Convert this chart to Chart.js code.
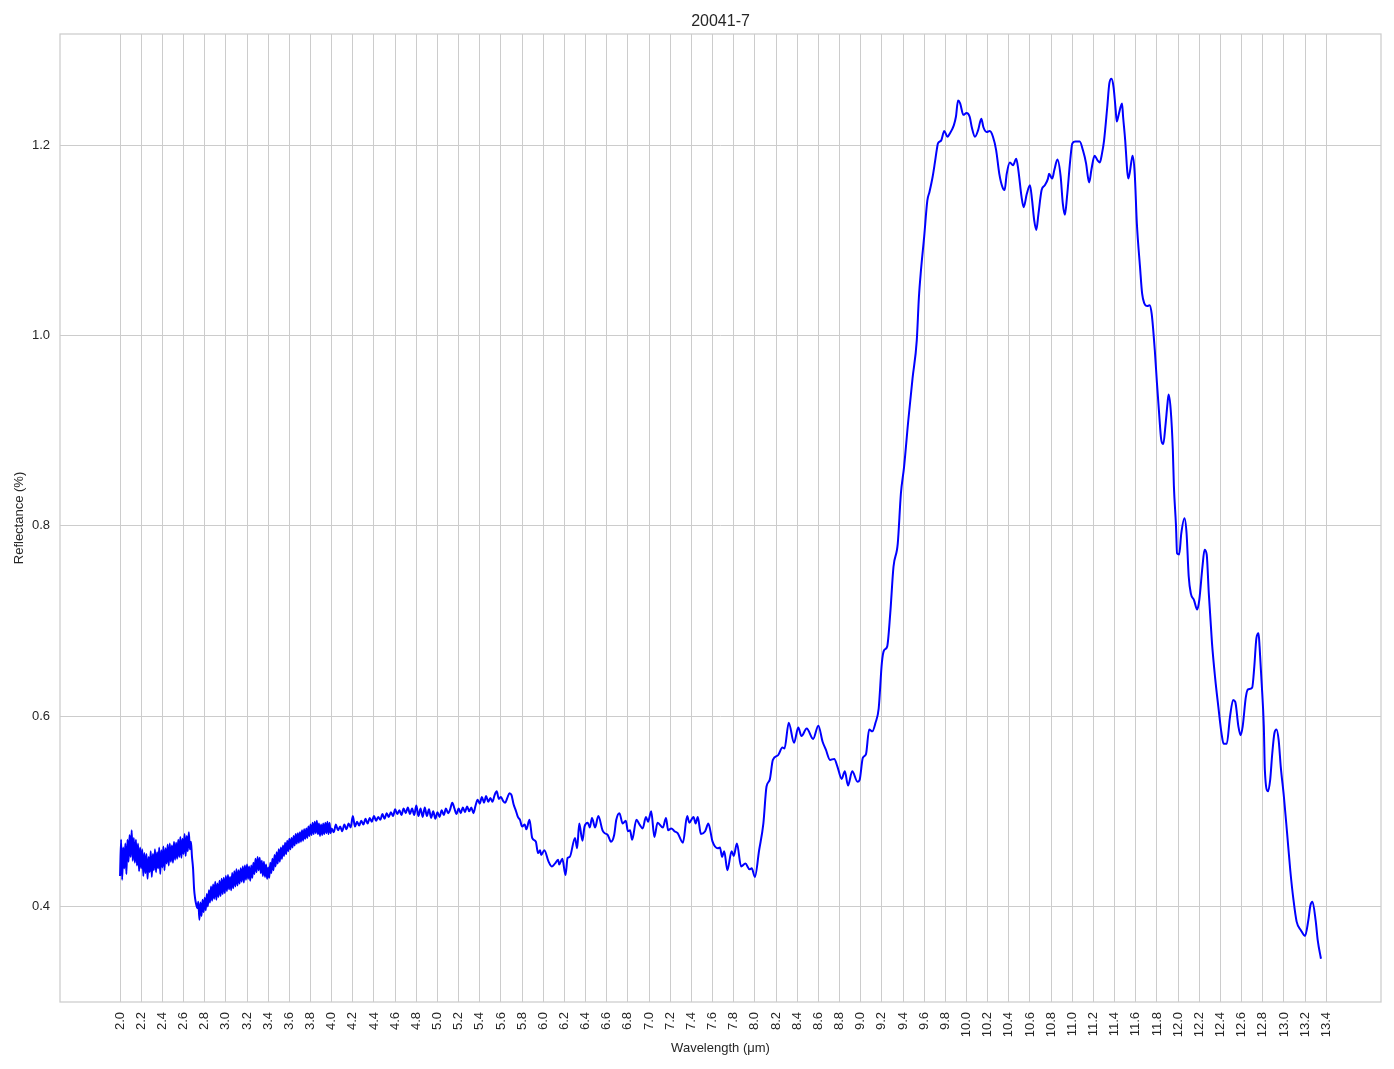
<!DOCTYPE html>
<html>
<head>
<meta charset="utf-8">
<title>20041-7</title>
<script src="https://cdn.jsdelivr.net/npm/chart.js@4.4.1/dist/chart.umd.min.js"></script>
<style>
  html, body { margin: 0; padding: 0; background: #fff; }
</style>
</head>
<body>
<canvas id="spec" width="1394" height="1069"></canvas>
<script>
// ---- DATA ----
// noisy start, sampled every 0.01 um from 2.00
const shortStart = 2.00, shortStep = 0.01;
const reflShort = [
  0.432, 0.470, 0.428, 0.462, 0.440, 0.466, 0.434, 0.470, 0.447, 0.475,
  0.452, 0.480, 0.448, 0.472, 0.446, 0.470, 0.443, 0.466, 0.437, 0.462,
  0.440, 0.460, 0.432, 0.456, 0.435, 0.455, 0.429, 0.452, 0.436, 0.458,
  0.431, 0.455, 0.438, 0.460, 0.436, 0.457, 0.440, 0.462, 0.434, 0.459,
  0.441, 0.463, 0.438, 0.461, 0.445, 0.465, 0.443, 0.466, 0.447, 0.464,
  0.446, 0.468, 0.449, 0.467, 0.450, 0.470, 0.452, 0.473, 0.451, 0.471,
  0.455, 0.476, 0.453, 0.474, 0.458, 0.478, 0.460, 0.468, 0.452, 0.440,
  0.418, 0.408, 0.402, 0.398, 0.405
];

// recovery after the dip, every 0.01 um from 2.75
const riseStart = 2.75, riseStep = 0.01;
const reflRise = [
  0.386, 0.404, 0.390, 0.407, 0.394, 0.409, 0.396, 0.413, 0.400, 0.417,
  0.404, 0.421, 0.406, 0.423, 0.408, 0.426, 0.407, 0.424, 0.410, 0.427,
  0.411, 0.429, 0.413, 0.430, 0.414, 0.432, 0.416, 0.433, 0.418, 0.431,
  0.417, 0.435, 0.419, 0.437, 0.421, 0.439, 0.422, 0.438, 0.424, 0.440,
  0.426, 0.442, 0.425, 0.443, 0.428, 0.444, 0.429, 0.442, 0.427, 0.443,
  0.430, 0.446, 0.434, 0.450, 0.436, 0.452, 0.438, 0.451, 0.435, 0.448,
  0.432, 0.447, 0.431, 0.444, 0.429, 0.441, 0.430, 0.446, 0.435, 0.450,
  0.438, 0.454, 0.442, 0.457, 0.445, 0.460, 0.447, 0.462, 0.450, 0.464,
  0.453, 0.467, 0.455, 0.469, 0.458, 0.471, 0.460, 0.472, 0.462, 0.474,
  0.464, 0.476, 0.466, 0.477, 0.467, 0.478, 0.468, 0.480, 0.469, 0.481,
  0.471, 0.482, 0.472, 0.484, 0.474, 0.486, 0.475, 0.488, 0.476, 0.489,
  0.477, 0.490, 0.476, 0.487, 0.474, 0.486, 0.475, 0.487, 0.476, 0.488,
  0.477, 0.489, 0.476, 0.488, 0.477
];

// plateau 4.00 - 5.78, every 0.02 um
const plateauStart = 4.00, plateauStep = 0.02;
const reflPlateau = [
  0.482, 0.478, 0.486, 0.480, 0.484, 0.479, 0.486, 0.481, 0.487, 0.483,
  0.495, 0.484, 0.489, 0.485, 0.490, 0.486, 0.492, 0.487, 0.493, 0.489,
  0.495, 0.490, 0.494, 0.491, 0.497, 0.492, 0.498, 0.494, 0.499, 0.495,
  0.502, 0.497, 0.501, 0.496, 0.503, 0.498, 0.504, 0.497, 0.503, 0.496,
  0.506, 0.495, 0.503, 0.494, 0.504, 0.495, 0.502, 0.493, 0.500, 0.492,
  0.499, 0.494, 0.501, 0.496, 0.503, 0.498, 0.502, 0.509, 0.503, 0.497,
  0.503, 0.498, 0.504, 0.499, 0.505, 0.500, 0.504, 0.498, 0.506, 0.512,
  0.508, 0.515, 0.509, 0.516, 0.510, 0.514, 0.510, 0.517, 0.521, 0.513,
  0.515, 0.511, 0.509, 0.514, 0.519, 0.517, 0.507, 0.501, 0.494, 0.491
];

// smoother middle part 5.80 - 9.57
const wlMid = [
  5.80, 5.825, 5.84, 5.87, 5.895, 5.93, 5.95, 5.97, 5.98, 6.01,
  6.05, 6.08, 6.11, 6.14, 6.15, 6.18, 6.21, 6.23, 6.25, 6.30,
  6.32, 6.34, 6.37, 6.39, 6.42, 6.44, 6.46, 6.49, 6.52, 6.56,
  6.58, 6.61, 6.64, 6.67, 6.69, 6.72, 6.75, 6.78, 6.80, 6.82,
  6.84, 6.88, 6.91, 6.94, 6.97, 6.99, 7.02, 7.05, 7.08, 7.13,
  7.16, 7.18, 7.21, 7.24, 7.27, 7.32, 7.36, 7.38, 7.42, 7.44,
  7.46, 7.49, 7.53, 7.56, 7.60, 7.65, 7.67, 7.69, 7.71, 7.74,
  7.78, 7.80, 7.83, 7.87, 7.91, 7.95, 7.97, 8.00, 8.04, 8.08,
  8.11, 8.14, 8.17, 8.22, 8.26, 8.28, 8.32, 8.37, 8.41, 8.44,
  8.49, 8.55, 8.60, 8.64, 8.67, 8.71, 8.75, 8.78, 8.82, 8.85,
  8.88, 8.92, 8.97, 8.99, 9.02, 9.05, 9.08, 9.11, 9.14, 9.17,
  9.20, 9.22, 9.25, 9.28, 9.31, 9.35, 9.38, 9.41, 9.45, 9.49,
  9.53, 9.55, 9.57
];
const reflMid = [
  0.484, 0.486, 0.481, 0.491, 0.472, 0.468, 0.456, 0.459, 0.454, 0.459,
  0.447, 0.442, 0.445, 0.449, 0.444, 0.450, 0.433, 0.451, 0.452, 0.472,
  0.461, 0.487, 0.469, 0.484, 0.488, 0.483, 0.493, 0.483, 0.495, 0.480,
  0.477, 0.475, 0.468, 0.475, 0.491, 0.498, 0.487, 0.490, 0.479, 0.480,
  0.470, 0.491, 0.486, 0.482, 0.494, 0.489, 0.500, 0.473, 0.488, 0.483,
  0.493, 0.480, 0.482, 0.479, 0.477, 0.467, 0.495, 0.488, 0.494, 0.487,
  0.494, 0.476, 0.479, 0.487, 0.468, 0.461, 0.462, 0.452, 0.458, 0.438,
  0.458, 0.453, 0.466, 0.442, 0.445, 0.439, 0.440, 0.431, 0.459, 0.487,
  0.526, 0.533, 0.554, 0.559, 0.567, 0.566, 0.593, 0.572, 0.588, 0.579,
  0.587, 0.576, 0.590, 0.573, 0.565, 0.554, 0.555, 0.547, 0.534, 0.542,
  0.527, 0.542, 0.531, 0.533, 0.556, 0.560, 0.586, 0.584, 0.593, 0.608,
  0.656, 0.669, 0.673, 0.709, 0.757, 0.781, 0.834, 0.862, 0.911, 0.955,
  0.995, 1.040, 1.069
];

// reststrahlen band and fall-off 9.60 - 13.35
const wlLong = [
  9.60, 9.63, 9.65, 9.68, 9.70, 9.72, 9.73, 9.76, 9.79, 9.82,
  9.84, 9.88, 9.90, 9.92, 9.94, 9.97, 10.00, 10.03, 10.05, 10.08,
  10.11, 10.14, 10.16, 10.19, 10.22, 10.25, 10.28, 10.31, 10.34, 10.36,
  10.38, 10.41, 10.44, 10.47, 10.49, 10.52, 10.54, 10.57, 10.60, 10.62,
  10.64, 10.66, 10.68, 10.71, 10.74, 10.77, 10.78, 10.81, 10.83, 10.86,
  10.89, 10.91, 10.93, 10.95, 10.98, 11.00, 11.03, 11.07, 11.10, 11.13,
  11.15, 11.16, 11.18, 11.21, 11.24, 11.26, 11.28, 11.30, 11.33, 11.35,
  11.37, 11.39, 11.41, 11.42, 11.44, 11.47, 11.48, 11.50, 11.52, 11.53,
  11.56, 11.57, 11.59, 11.61, 11.64, 11.66, 11.68, 11.71, 11.73, 11.75,
  11.78, 11.80, 11.82, 11.84, 11.86, 11.88, 11.90, 11.91, 11.93, 11.95,
  11.96, 11.98, 11.99, 12.01, 12.03, 12.06, 12.08, 12.10, 12.12, 12.15,
  12.18, 12.20, 12.23, 12.25, 12.27, 12.29, 12.32, 12.35, 12.38, 12.41,
  12.43, 12.46, 12.49, 12.52, 12.54, 12.57, 12.59, 12.61, 12.64, 12.66,
  12.70, 12.72, 12.74, 12.76, 12.77, 12.79, 12.81, 12.82, 12.85, 12.87,
  12.89, 12.91, 12.93, 12.95, 12.97, 13.00, 13.03, 13.06, 13.09, 13.12,
  13.16, 13.20, 13.23, 13.25, 13.27, 13.30, 13.32, 13.35
];
const reflLong = [
  1.104, 1.142, 1.151, 1.167, 1.181, 1.196, 1.202, 1.205, 1.215, 1.209,
  1.212, 1.221, 1.230, 1.247, 1.244, 1.232, 1.234, 1.230, 1.219, 1.209,
  1.216, 1.228, 1.219, 1.214, 1.215, 1.209, 1.195, 1.170, 1.156, 1.153,
  1.170, 1.182, 1.179, 1.186, 1.174, 1.146, 1.135, 1.149, 1.158, 1.142,
  1.121, 1.111, 1.128, 1.153, 1.158, 1.165, 1.170, 1.165, 1.174, 1.185,
  1.167, 1.139, 1.127, 1.146, 1.184, 1.202, 1.204, 1.204, 1.195, 1.181,
  1.165, 1.161, 1.174, 1.189, 1.184, 1.182, 1.191, 1.205, 1.240, 1.265,
  1.270, 1.261, 1.237, 1.225, 1.233, 1.244, 1.230, 1.205, 1.172, 1.165,
  1.184, 1.189, 1.170, 1.118, 1.072, 1.044, 1.034, 1.031, 1.032, 1.023,
  0.984, 0.950, 0.919, 0.891, 0.886, 0.905, 0.929, 0.938, 0.922, 0.880,
  0.842, 0.800, 0.771, 0.770, 0.792, 0.808, 0.792, 0.747, 0.729, 0.722,
  0.712, 0.722, 0.757, 0.775, 0.770, 0.729, 0.677, 0.640, 0.610, 0.582,
  0.571, 0.571, 0.599, 0.617, 0.615, 0.589, 0.580, 0.589, 0.620, 0.628,
  0.630, 0.652, 0.682, 0.687, 0.673, 0.634, 0.589, 0.543, 0.521, 0.533,
  0.561, 0.582, 0.586, 0.575, 0.547, 0.515, 0.477, 0.438, 0.407, 0.384,
  0.375, 0.369, 0.385, 0.401, 0.405, 0.385, 0.364, 0.345
];

const xTicks = [
  2.0, 2.2, 2.4, 2.6, 2.8, 3.0, 3.2, 3.4, 3.6, 3.8,
  4.0, 4.2, 4.4, 4.6, 4.8, 5.0, 5.2, 5.4, 5.6, 5.8,
  6.0, 6.2, 6.4, 6.6, 6.8, 7.0, 7.2, 7.4, 7.6, 7.8,
  8.0, 8.2, 8.4, 8.6, 8.8, 9.0, 9.2, 9.4, 9.6, 9.8,
  10.0, 10.2, 10.4, 10.6, 10.8, 11.0, 11.2, 11.4, 11.6, 11.8,
  12.0, 12.2, 12.4, 12.6, 12.8, 13.0, 13.2, 13.4
];
const yTicks = [0.4, 0.6, 0.8, 1.0, 1.2];

// ---- BUILD POINTS ----
function gridPts(start, step, ys) {
  return ys.map((y, i) => ({ x: +(start + i * step).toFixed(3), y }));
}
function pairPts(xs, ys) {
  return xs.map((x, i) => ({ x, y: ys[i] }));
}
const points = [
  ...gridPts(shortStart, shortStep, reflShort),
  ...gridPts(riseStart, riseStep, reflRise),
  ...gridPts(plateauStart, plateauStep, reflPlateau),
  ...pairPts(wlMid, reflMid),
  ...pairPts(wlLong, reflLong),
];

// ---- STYLE ----
const FONT = "'Liberation Sans', Arial, Helvetica, sans-serif";
const GRID = '#cccccc';
const TXT = '#262626';

// light grey box round the plot (seaborn whitegrid spines)
const frame = {
  id: 'frame',
  beforeDatasetsDraw(chart) {
    const { ctx, chartArea: a } = chart;
    ctx.save();
    ctx.strokeStyle = GRID;
    ctx.lineWidth = 1.25;
    ctx.strokeRect(a.left, a.top, a.right - a.left, a.bottom - a.top);
    ctx.restore();
  },
};

new Chart(document.getElementById('spec'), {
  type: 'line',
  data: {
    datasets: [{
      label: '20041-7',
      data: points,
      borderColor: '#0000ff',
      borderWidth: 2,
      pointRadius: 0,
      cubicInterpolationMode: 'monotone',
      fill: false,
    }],
  },
  options: {
    responsive: false,
    animation: false,
    layout: { padding: { left: 0, right: 13, top: 0, bottom: 0 } },
    plugins: {
      legend: { display: false },
      tooltip: { enabled: false },
      title: {
        display: true, text: '20041-7', color: TXT, fullSize: false,
        font: { family: FONT, size: 16, weight: 'normal' },
        padding: { top: 12, bottom: 2.8 },
      },
    },
    scales: {
      x: {
        type: 'linear', min: 1.4325, max: 13.9175,
        afterBuildTicks: s => { s.ticks = xTicks.map(v => ({ value: v })); },
        afterFit: s => { s.height = 67; },
        grid: { color: GRID, lineWidth: 1, drawTicks: false },
        border: { display: false },
        ticks: {
          color: TXT, font: { family: FONT, size: 13 }, padding: 10,
          minRotation: 90, maxRotation: 90, autoSkip: false,
          callback: v => v.toFixed(1),
        },
        title: {
          display: true, text: 'Wavelength (μm)', color: TXT,
          font: { family: FONT, size: 13 }, padding: { top: 4, bottom: 13 },
        },
      },
      y: {
        min: 0.2995, max: 1.317,
        afterBuildTicks: s => { s.ticks = yTicks.map(v => ({ value: v })); },
        afterFit: s => { s.width = 60; },
        grid: { color: GRID, lineWidth: 1, drawTicks: false },
        border: { display: false },
        ticks: {
          color: TXT, font: { family: FONT, size: 13 }, padding: 10,
          callback: v => v.toFixed(1),
        },
        title: {
          display: true, text: 'Reflectance (%)', color: TXT,
          font: { family: FONT, size: 13 }, padding: { top: 12, bottom: 4 },
        },
      },
    },
  },
  plugins: [frame],
});
</script>
</body>
</html>
